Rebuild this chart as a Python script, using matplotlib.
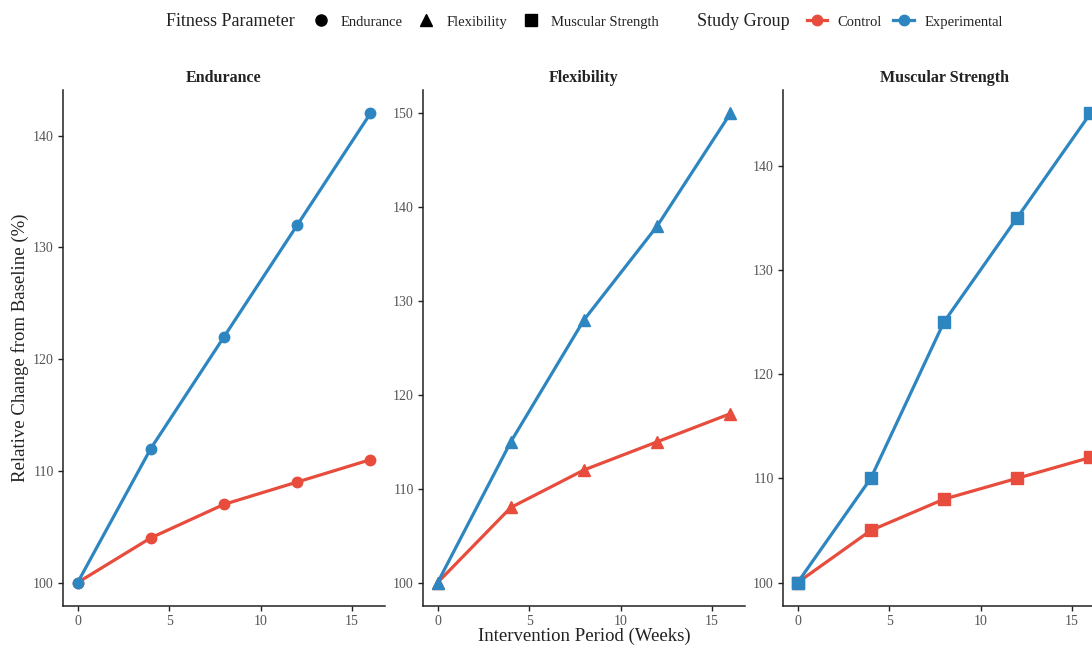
import matplotlib.pyplot as plt
from matplotlib.lines import Line2D

plt.rcParams['font.family'] = ['Liberation Serif', 'DejaVu Serif']

weeks = [0, 4, 8, 12, 16]
params = ['Endurance', 'Flexibility', 'Muscular Strength']
markers = {'Endurance': 'o', 'Flexibility': '^', 'Muscular Strength': 's'}

control = {
    'Endurance': [100, 104, 107, 109, 111],
    'Flexibility': [100, 108, 112, 115, 118],
    'Muscular Strength': [100, 105, 108, 110, 112],
}
experimental = {
    'Endurance': [100, 112, 122, 132, 142],
    'Flexibility': [100, 115, 128, 138, 150],
    'Muscular Strength': [100, 110, 125, 135, 145],
}
yticks = {
    'Endurance': [100, 110, 120, 130, 140],
    'Flexibility': [100, 110, 120, 130, 140, 150],
    'Muscular Strength': [100, 110, 120, 130, 140],
}

red = '#E74C3C'
blue = '#2E86C1'
tickc = '#555555'

fig = plt.figure(figsize=(10.92, 6.47), dpi=100)

lefts = [63, 423, 783]
for i, p in enumerate(params):
    ax = fig.add_axes([lefts[i] / 1092, 41 / 647, 322 / 1092, 516 / 647])
    m = markers[p]
    ms = 7.5 if m == 'o' else 8
    ax.plot(weeks, control[p], color=red, lw=2.3, marker=m, ms=ms, zorder=3)
    ax.plot(weeks, experimental[p], color=blue, lw=2.3, marker=m, ms=ms, zorder=3)
    allv = control[p] + experimental[p]
    lo, hi = min(allv), max(allv)
    pad = (hi - lo) * 0.05
    ax.set_ylim(lo - pad, hi + pad)
    ax.set_xlim(-0.8, 16.8)
    ax.set_xticks([0, 5, 10, 15])
    ax.set_yticks(yticks[p])
    for s in ['top', 'right']:
        ax.spines[s].set_visible(False)
    for s in ['left', 'bottom']:
        ax.spines[s].set_linewidth(1.1)
        ax.spines[s].set_color('#222222')
    ax.tick_params(length=3.5, width=1, color='#222222', labelcolor=tickc,
                   labelsize=10, pad=3)
    ax.set_title(p, fontsize=11.5, fontweight='bold', color='#222222', pad=6)
    if i == 0:
        ax.set_ylabel('Relative Change from Baseline (%)', fontsize=13.5,
                      color='#222222', labelpad=3)
    if i == 1:
        ax.set_xlabel('Intervention Period (Weeks)', fontsize=13.5,
                      color='#222222', labelpad=0)
    ax.set_clip_on(False)

# legend row
fig.text(166 / 1092, 1 - 22 / 647, 'Fitness Parameter', fontsize=13,
         va='center', ha='left', color='#222222')
shape_handles = [Line2D([], [], ls='', marker=markers[p], color='black', ms=8)
                 for p in params]
leg1 = fig.legend(shape_handles, params, loc='center left',
                  bbox_to_anchor=(306 / 1092, 1 - 22 / 647), ncol=3,
                  frameon=False, fontsize=10.5, handlelength=1.2,
                  handletextpad=0.8, columnspacing=1.0, borderaxespad=0)
fig.text(697 / 1092, 1 - 22 / 647, 'Study Group', fontsize=13,
         va='center', ha='left', color='#222222')
grp_handles = [Line2D([], [], color=red, lw=2.3, marker='o', ms=7.5),
               Line2D([], [], color=blue, lw=2.3, marker='o', ms=7.5)]
leg2 = fig.legend(grp_handles, ['Control', 'Experimental'], loc='center left',
                  bbox_to_anchor=(801 / 1092, 1 - 22 / 647), ncol=2,
                  frameon=False, fontsize=10.5, handlelength=1.4,
                  handletextpad=0.7, columnspacing=0.8, borderaxespad=0)
for leg in (leg1, leg2):
    for t in leg.get_texts():
        t.set_color('#222222')

fig.savefig('out.png', dpi=100)
